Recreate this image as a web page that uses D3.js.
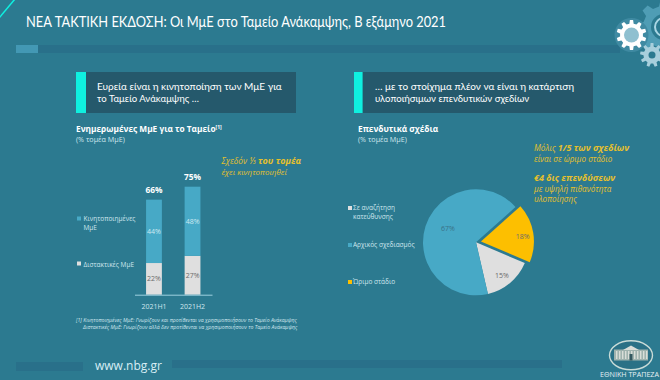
<!DOCTYPE html>
<html><head><meta charset="utf-8">
<script src="https://cdn.jsdelivr.net/npm/d3@7/dist/d3.min.js"></script>
<style>html,body{margin:0;padding:0;background:#2c7a90;overflow:hidden}svg{display:block}text{font-family:"Open Sans","Noto Sans",sans-serif}</style>
</head><body><svg id="c" width="660" height="380"></svg>
<script>
const periods = ["2021H1","2021H2"];
const mobilised = [44,48];
const hesitant = [22,27];
const totals = ["66%","75%"];
const barSeriesNames = [["Κινητοποιημένες","ΜμΕ"],["Διστακτικές ΜμΕ"]];
const pieLabels = [["Σε αναζήτηση","κατεύθυνσης"],["Αρχικός σχεδιασμός"],["Ώριμο στάδιο"]];
const pieValues = [15,67,18];
const pieColors = ["#dfdfdf","#47a9c6","#fdbf00"];
const C = {bg:"#2c7a90",dark:"#25596c",bar:"#29708a",blue:"#47a9c6",grey:"#dfdfdf",gold:"#e6c02c",cyan:"#0ff0e0",white:"#ffffff",pale:"#cfe6ee"};

const svg = d3.select("#c");
svg.append("rect").attr("width",660).attr("height",380).attr("fill",C.bg);
function T(x,y,s,size,fill,o={}){
  const t=svg.append("text").attr("x",x).attr("y",y).attr("font-size",size).attr("fill",fill)
    .attr("text-anchor",o.a||"start").attr("font-weight",o.w||400).attr("font-style",o.i?"italic":"normal");
  if(o.ls!==undefined)t.attr("letter-spacing",o.ls);
  if(o.f)t.style("font-family",o.f);
  if(Array.isArray(s)) s.forEach(p=>t.append("tspan").attr("font-weight",p[1]||400).attr("font-size",p[2]||size).text(p[0])); else t.text(s);
  return t;
}
// frame decoration
svg.append("line").attr("x1",-1).attr("y1",18).attr("x2",15).attr("y2",-1).attr("stroke",C.cyan).attr("stroke-width",1.5);
svg.append("rect").attr("x",16).attr("y",45).attr("width",604).attr("height",8).attr("fill",C.bar);
svg.append("rect").attr("x",16).attr("y",45).attr("width",22).attr("height",8).attr("fill","#4398b4");
svg.append("rect").attr("x",16).attr("y",362).attr("width",67).attr("height",9).attr("fill",C.bar);
svg.append("rect").attr("x",172).attr("y",360).attr("width",390).attr("height",8).attr("fill",C.bar);
T(26,27,"ΝΕΑ ΤΑΚΤΙΚΗ ΕΚΔΟΣΗ: Οι ΜμΕ στο Ταμείο Ανάκαμψης, Β εξάμηνο 2021",14.7,C.white,{f:"Lato, 'Open Sans', sans-serif"}).attr("textLength",420).attr("lengthAdjust","spacingAndGlyphs");
T(95,370,"www.nbg.gr",12,"#d8eef5");

// gears
function gear(cx,cy,R,r,hole,n,fill,holeFill){
  const pts=[];const step=2*Math.PI/n;
  for(let i=0;i<n;i++){const a=i*step;
    [[-.30,r],[-.17,R],[.17,R],[.30,r]].forEach(([f,q])=>pts.push([cx+q*Math.sin(a+f*step),cy-q*Math.cos(a+f*step)]));}
  svg.append("path").attr("d",d3.line()(pts)+"Z").attr("fill",fill);
  svg.append("circle").attr("cx",cx).attr("cy",cy).attr("r",hole).attr("fill",holeFill);
}
gear(664,27,27,21,13,8,"#4f9db5","#2c7a90");
svg.append("circle").attr("cx",664).attr("cy",27).attr("r",9).attr("fill","none").attr("stroke","#a9d6e4").attr("stroke-width",2);
svg.append("circle").attr("cx",631.5).attr("cy",35).attr("r",17).attr("fill","#3f8aa2");
gear(631.5,35,15,11.5,7.5,10,"#ffffff","#8fc0d0");
gear(652,55,12,8.5,3.5,9,"#a8cfdc",C.bg);

// headline panels
[[76,220,10,["Ευρεία είναι η κινητοποίηση των ΜμΕ για","το Ταμείο Ανάκαμψης …"],97,184.7],
 [354,239,8.6,["… με το στοίχημα πλέον να είναι η κατάρτιση","υλοποιήσιμων επενδυτικών σχεδίων"],375,199]].forEach(([x,w,acc,lines,tx,tw])=>{
  svg.append("rect").attr("x",x).attr("y",72).attr("width",w).attr("height",41).attr("fill",C.dark);
  svg.append("rect").attr("x",x).attr("y",72).attr("width",acc).attr("height",41).attr("fill",C.cyan);
  lines.forEach((l,i)=>{const t=T(tx,89.5+i*12.4,l,9.6,C.white,{f:"Lato, 'Open Sans', sans-serif"}); if(i==0)t.attr("textLength",tw).attr("lengthAdjust","spacingAndGlyphs");});
});

// left chart headings
const h1=T(76,132,"Ενημερωμένες ΜμΕ για το Ταμείο",8.3,C.white,{w:700});
h1.append("tspan").attr("font-size",5).attr("dy",-3).text("[1]");
T(76,142,"(% τομέα ΜμΕ)",7.2,C.pale);
T(221.5,164,[["Σχεδόν ⅓ "],["του τομέα",700,9]],8.3,C.gold,{i:true});
T(221.5,174.5,"έχει κινητοποιηθεί",8,C.gold,{i:true});

// stacked bars
const x=d3.scaleBand().domain(periods).range([134.5,212]).paddingInner(.59).paddingOuter(.3);
const y=d3.scaleLinear().domain([0,75]).range([294.7,186.7]);
const g=svg.append("g");
g.selectAll(".a").data(periods).join("rect").attr("x",d=>x(d)).attr("width",x.bandwidth())
  .attr("y",(d,i)=>y(hesitant[i])).attr("height",(d,i)=>y(0)-y(hesitant[i])).attr("fill",C.grey);
g.selectAll(".b").data(periods).join("rect").attr("x",d=>x(d)).attr("width",x.bandwidth())
  .attr("y",(d,i)=>y(hesitant[i]+mobilised[i])).attr("height",(d,i)=>y(hesitant[i])-y(hesitant[i]+mobilised[i])).attr("fill",C.blue);
const ax=d3.axisBottom(x).tickSize(0).tickPadding(9);
const axG=svg.append("g").attr("transform",`translate(0,${y(0)})`).call(ax);
axG.select(".domain").attr("stroke","#9fd0df").attr("stroke-width",1);
axG.selectAll("text").attr("font-size",7).attr("fill",C.pale).style("font-family",'"Open Sans","Noto Sans",sans-serif');
periods.forEach((p,i)=>{
  const c=x(p)+x.bandwidth()/2;
  T(c,y(hesitant[i]/2)+2.5,hesitant[i]+"%",7,"#6b6b6b",{a:"middle"});
  T(c,y(hesitant[i]+mobilised[i]/2)+2.5,mobilised[i]+"%",7,"#cfe9f2",{a:"middle"});
  T(c,y(hesitant[i]+mobilised[i])-7,totals[i],8.3,C.white,{a:"middle",w:700});
});
// bar legend
svg.append("rect").attr("x",77).attr("y",216.5).attr("width",4).attr("height",4).attr("fill",C.blue);
T(83.5,221,barSeriesNames[0][0],6.5,C.pale);
T(83.5,230,barSeriesNames[0][1],6.5,C.pale);
svg.append("rect").attr("x",77).attr("y",261.5).attr("width",4).attr("height",4).attr("fill",C.grey);
T(83.5,266.5,barSeriesNames[1][0],6.5,C.pale);
// footnote
T(76,322,"[1] Κινητοποιημένες ΜμΕ: Γνωρίζουν και προτίθενται να χρησιμοποιήσουν το Ταμείο Ανάκαμψης",5.2,C.pale,{i:true});
T(83,328.5,"Διστακτικές ΜμΕ: Γνωρίζουν αλλά δεν προτίθενται να χρησιμοποιήσουν το Ταμείο Ανάκαμψης",5.2,C.pale,{i:true});

// right chart headings
T(358,132,"Επενδυτικά σχέδια",8.3,C.white,{w:700});
T(358,142,"(% τομέα ΜμΕ)",7.2,C.pale);
T(534,150.5,[["Μόλις "],["1/5 των σχεδίων",700,9]],8.2,C.gold,{i:true});
T(534,161.5,"είναι σε ώριμο στάδιο",8.1,C.gold,{i:true});
T(534,181,"€4 δις επενδύσεων",9,C.gold,{i:true,w:700});
T(534,192,"με υψηλή πιθανότητα",8.1,C.gold,{i:true});
T(534,202,"υλοποίησης",8.1,C.gold,{i:true});

// pie
const startDeg=113;
const pie=d3.pie().sort(null).startAngle(startDeg*Math.PI/180).endAngle((startDeg+360)*Math.PI/180);
const arc=d3.arc().innerRadius(0).outerRadius(53);
const pc=[476,242.3];
const pg=svg.append("g").attr("transform",`translate(${pc})`);
const pieArcs=pie(pieValues);
const labelOffsets=[[26,32.7],[-28,-13.6],[46.7,-5.6]];
pieArcs.forEach((d,i)=>{
  const off=i===2?5:0, [cx,cy]=arc.centroid(d), m=Math.hypot(cx,cy)||1;
  pg.append("path").attr("d",arc(d)).attr("fill",pieColors[i]).attr("transform",`translate(${cx/m*off},${cy/m*off})`);
  T(pc[0]+labelOffsets[i][0],pc[1]+labelOffsets[i][1]+2.5,pieValues[i]+"%",7,i==1?"#3a7187":"#6b6b6b",{a:"middle"});
});
// pie legend
const legY=[209,246,283];
pieLabels.forEach((ls,i)=>{
  svg.append("rect").attr("x",348).attr("y",legY[i]-3).attr("width",4).attr("height",4).attr("fill",pieColors[i]);
  ls.forEach((l,j)=>T(353,legY[i]+1+j*9,l,6.5,C.pale));
});

// logo
svg.append("ellipse").attr("cx",631).attr("cy",355.3).attr("rx",21.5).attr("ry",14.5).attr("fill","#2a7186").attr("stroke","#c9dcd8").attr("stroke-width",1.4);
svg.append("rect").attr("x",614).attr("y",349.5).attr("width",34).attr("height",11).attr("fill","#9fb3ae");
d3.range(616,647,3).forEach(px=>svg.append("rect").attr("x",px).attr("y",351).attr("width",1.4).attr("height",8).attr("fill","#d9ded8"));
svg.append("path").attr("d","M623 350L631 345.5L639 350Z").attr("fill","#d9ded8");
svg.append("rect").attr("x",629.5).attr("y",354).attr("width",3).attr("height",6.5).attr("fill","#33585f");
T(600,377,"ΕΘΝΙΚΗ ΤΡΑΠΕΖΑ",7,"#e6f1f4").attr("textLength",59).attr("lengthAdjust","spacingAndGlyphs");
</script></body></html>
